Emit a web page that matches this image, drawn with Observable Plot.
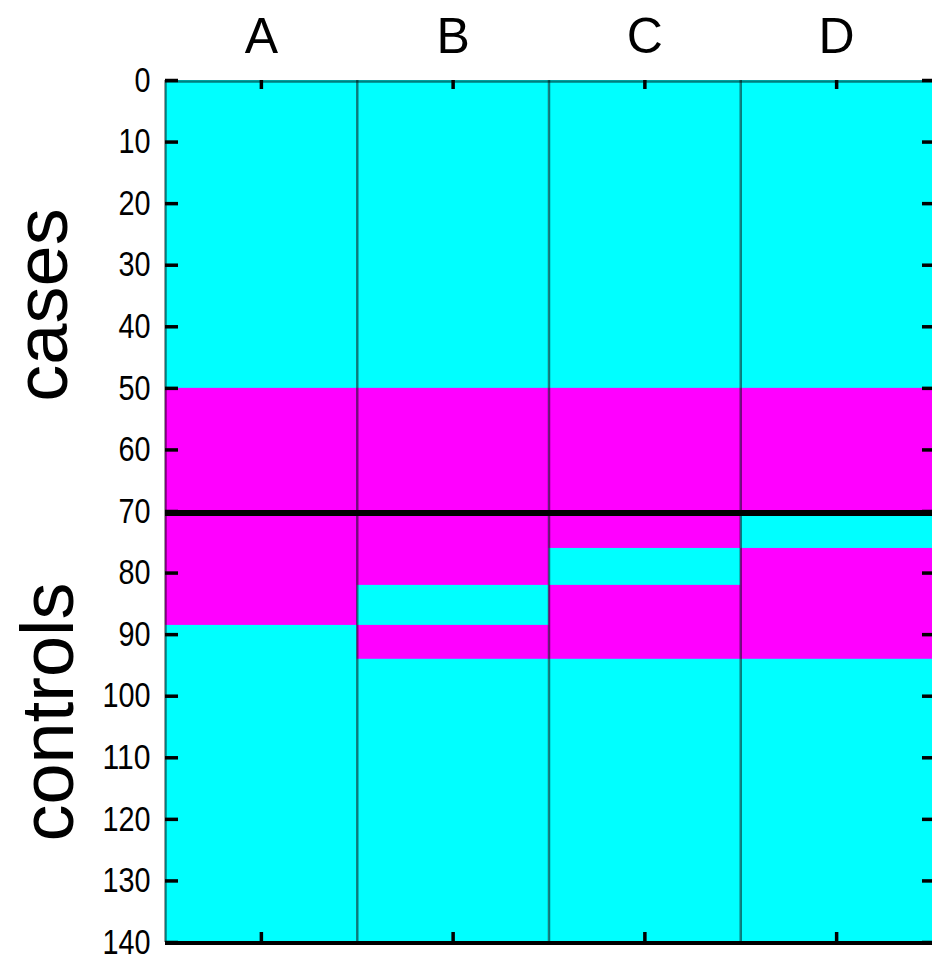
<!DOCTYPE html>
<html>
<head>
<meta charset="utf-8">
<script src="https://cdn.jsdelivr.net/npm/d3@7"></script>
<script src="https://cdn.jsdelivr.net/npm/@observablehq/plot@0.6"></script>
<style>
  html, body { margin: 0; padding: 0; background: #fff; }
  #chart svg { display: block; }
</style>
</head>
<body>
<div id="chart"></div>
<script>
// Columns (markers) and row axis
const categories = ["A", "B", "C", "D"];
const yTicks = [0, 10, 20, 30, 40, 50, 60, 70, 80, 90, 100, 110, 120, 130, 140];
const totalRows = 140;

// Sample groups: rows 0–70 are cases, 70–140 are controls
const groups = ["cases", "controls"];
const groupBounds = [[0, 70], [70, 140]];

// Row intervals flagged as positive in each column
const positiveA = [[50, 88.5]];
const positiveB = [[50, 82], [88.5, 94]];
const positiveC = [[50, 76], [82, 94]];
const positiveD = [[50, 70], [76, 94]];

const positive = [positiveA, positiveB, positiveC, positiveD];
const segments = positive.flatMap((list, i) =>
  list.map(([from, to]) => ({i, from, to}))
);
const columnIndex = categories.map((_, i) => i);

const width = 932, height = 963;
const marginTop = 80, marginBottom = 21, marginLeft = 165, marginRight = 0;
const innerW = width - marginLeft - marginRight;
const innerH = height - marginTop - marginBottom;

const NEG = "#00ffff", POS = "#ff00ff";
const sans = "'Liberation Sans', Arial, Helvetica, sans-serif";
const digitWidth = 16; // condensed numerals on the row axis

const chart = Plot.plot({
  width, height, marginTop, marginBottom, marginLeft, marginRight,
  style: {fontFamily: sans, background: "#fff", overflow: "visible"},
  x: {type: "linear", domain: [-0.5, categories.length - 0.5], axis: null},
  y: {type: "linear", domain: [0, totalRows], reverse: true, axis: null},
  marks: [
    // negative background per column
    Plot.rect(columnIndex, {x1: d => d - 0.5, x2: d => d + 0.5, y1: 0, y2: totalRows, fill: NEG}),
    // positive intervals
    Plot.rect(segments, {x1: d => d.i - 0.5, x2: d => d.i + 0.5, y1: "from", y2: "to", fill: POS}),
    // column separators and top edge
    Plot.ruleX(columnIndex.map(i => i - 0.5), {stroke: "#000", strokeOpacity: 0.5, strokeWidth: 2.5}),
    Plot.ruleY([0], {stroke: "#000", strokeOpacity: 0.5, strokeWidth: 2.5, dy: 1}),
    // boundary between cases and controls
    Plot.ruleY([groupBounds[0][1]], {stroke: "#000", strokeWidth: 6, dy: 1.5}),
    // bottom axis line
    Plot.ruleY([totalRows], {stroke: "#000", strokeWidth: 4, dy: 0.5}),
    // inward ticks: left, right, top, bottom
    Plot.ruleY(yTicks, {stroke: "#000", strokeWidth: 3.5, insetRight: innerW - 13}),
    Plot.ruleY(yTicks, {stroke: "#000", strokeWidth: 3.5, insetLeft: innerW - 10}),
    Plot.ruleX(columnIndex, {stroke: "#000", strokeWidth: 3.5, insetBottom: innerH - 9}),
    Plot.ruleX(columnIndex, {stroke: "#000", strokeWidth: 3.5, insetTop: innerH - 10}),
    // tick labels
    Plot.axisY({
      anchor: "left", ticks: yTicks, tickSize: 0, tickPadding: 15,
      fontSize: 35, fontFamily: sans, tickFormat: d => String(d)
    }),
    Plot.axisX({
      anchor: "top", ticks: columnIndex, tickSize: 0, tickPadding: 28,
      fontSize: 50, fontFamily: sans, tickFormat: i => categories[i]
    }),
    // group labels on the left
    Plot.text([groups[0]], {
      y: () => (groupBounds[0][0] + groupBounds[0][1]) / 2,
      frameAnchor: "left", rotate: -90, fontSize: 74, fontFamily: sans,
      textAnchor: "middle", dx: -122, dy: 9, fill: "#000"
    }),
    Plot.text([groups[1]], {
      y: () => (groupBounds[1][0] + groupBounds[1][1]) / 2,
      frameAnchor: "left", rotate: -90, fontSize: 74, fontFamily: sans,
      textAnchor: "middle", dx: -116, dy: -15, fill: "#000"
    })
  ]
});

// Squeeze the row-axis numerals to a condensed width
d3.select(chart)
  .selectAll('g[aria-label="y-axis tick label"] text')
  .each(function () {
    const n = this.textContent.trim().length;
    this.setAttribute("textLength", n * digitWidth);
    this.setAttribute("lengthAdjust", "spacingAndGlyphs");
  });

document.getElementById("chart").append(chart);
</script>
</body>
</html>
